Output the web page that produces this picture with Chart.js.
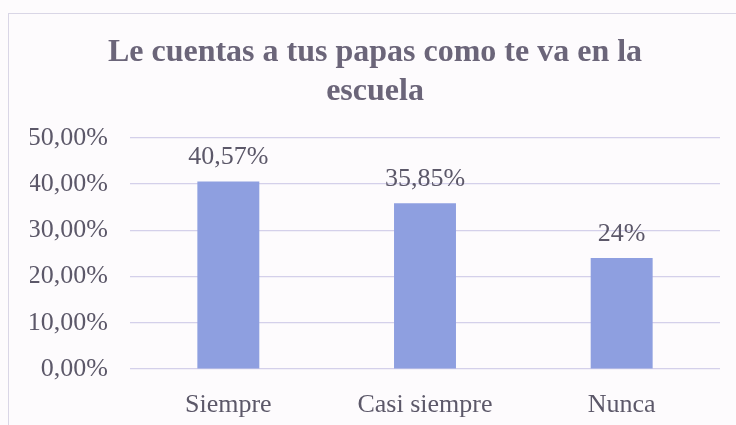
<!DOCTYPE html>
<html>
<head>
<meta charset="utf-8">
<script src="https://cdn.jsdelivr.net/npm/chart.js@4.4.1/dist/chart.umd.min.js"></script>
<style>
  html, body { margin: 0; padding: 0; background: #fdfbfd; }
  #wrap { position: relative; width: 736px; height: 425px; }
  #frame { position: absolute; left: 8px; top: 13px; width: 740px; height: 430px;
           border: 1px solid #d9d6e6; box-sizing: border-box; }
  canvas { position: absolute; left: 0; top: 0; }
</style>
</head>
<body>
<div id="wrap">
  <div id="frame"></div>
  <canvas id="chart" width="736" height="425"></canvas>
</div>
<script>
// Data
////////////////////////////////////////////////
const categories = ["Siempre", "Casi siempre", "Nunca"];
const values = [40.57, 35.85, 24];
const valueLabels = ["40,57%", "35,85%", "24%"];
const titleLines = ["Le cuentas a tus papas como te va en la", "escuela"];

const serif = "'Liberation Serif', 'DejaVu Serif', serif";
const textColour = '#5c5869';

// labels drawn above each bar, positioned from the bar elements
const barLabels = {
    id: 'barLabels',
    afterDatasetsDraw(chart) {
        const ctx = chart.ctx;
        const meta = chart.getDatasetMeta(0);
        ctx.save();
        ctx.font = '26px ' + serif;
        ctx.fillStyle = textColour;
        ctx.textAlign = 'center';
        ctx.textBaseline = 'alphabetic';
        meta.data.forEach((bar, i) => {
            ctx.fillText(valueLabels[i], bar.x, bar.y - 17);
        });
        ctx.restore();
    }
};

const config = {
    type: 'bar',
    data: {
        labels: categories,
        datasets: [{
            data: values,
            backgroundColor: '#8e9fe0',
            borderWidth: 0,
            categoryPercentage: 1,
            barPercentage: 0.315
        }]
    },
    options: {
        responsive: false,
        animation: false,
        layout: { padding: { top: 14, right: 16, bottom: 0, left: 30 } },
        plugins: {
            legend: { display: false },
            tooltip: { enabled: false },
            title: {
                display: true,
                text: titleLines,
                color: '#6b6579',
                font: { family: serif, size: 32, weight: 'bold', lineHeight: 1.2 },
                padding: { top: 20, bottom: 27 }
            }
        },
        scales: {
            x: {
                grid: { display: false },
                border: { display: false },
                ticks: { color: textColour, font: { family: serif, size: 26 }, padding: 13 },
                afterFit: s => { s.height = 56; }
            },
            y: {
                min: 0,
                max: 50,
                ticks: {
                    stepSize: 10,
                    color: textColour,
                    font: { family: serif, size: 26 },
                    padding: 22,
                    callback: v => v.toFixed(2).replace('.', ',') + '%'
                },
                grid: { color: '#d4d0ea', lineWidth: 1.2, drawTicks: false },
                border: { display: false },
                afterFit: s => { s.width = 100; }
            }
        }
    },
    plugins: [barLabels]
};

new Chart(document.getElementById('chart'), config);
</script>
</body>
</html>
